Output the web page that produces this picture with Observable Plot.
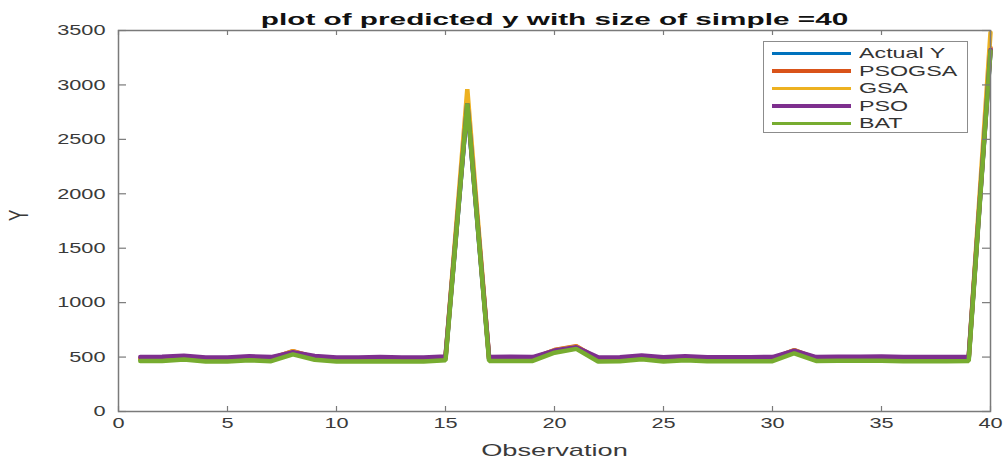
<!DOCTYPE html>
<html>
<head>
<meta charset="utf-8">
<script src="https://cdn.jsdelivr.net/npm/d3@7"></script>
<script src="https://cdn.jsdelivr.net/npm/@observablehq/plot@0.6"></script>
<style>
  html, body { margin: 0; padding: 0; background: #fff; }
  #wrap { position: relative; width: 1007px; height: 463px; overflow: hidden; }
  #legend {
    position: absolute; left: 763px; top: 41px; width: 205px; height: 92px;
    background: #fff; border: 1.5px solid #8c8c8c; box-sizing: border-box;
    font-family: "Liberation Sans", Arial, sans-serif; font-size: 15px; color: #333;
    padding-top: 2px;
  }
  .row { position: relative; height: 17.5px; }
  .sw { position: absolute; left: 8px; top: 7.5px; width: 79px; height: 3.5px; }
  .lab { position: absolute; left: 95px; top: 0px; line-height: 17.5px; transform: scaleX(1.55); transform-origin: left center; white-space: nowrap; }
</style>
</head>
<body>
<div id="wrap"><div id="chart"></div><div id="legend"></div></div>
<script>
const title = "plot of predicted y with size of simple =40";
const xLabel = "Observation";
const yLabel = "Y";
const xTicks = [0, 5, 10, 15, 20, 25, 30, 35, 40];
const yTicks = [0, 500, 1000, 1500, 2000, 2500, 3000, 3500];
const observations = [1,2,3,4,5,6,7,8,9,10,11,12,13,14,15,16,17,18,19,20,21,22,23,24,25,26,27,28,29,30,31,32,33,34,35,36,37,38,39,40];
const seriesNames = ["Actual Y", "PSOGSA", "GSA", "PSO", "BAT"];
const seriesColors = ["#0072BD", "#D95319", "#EDB120", "#7E2F8E", "#77AC30"];

const actualY = [480,482,495,476,476,488,480,540,492,476,476,480,476,476,485,2820,480,484,480,550,585,476,478,498,478,490,478,478,478,480,550,480,482,482,485,480,480,480,482,3320];
const psogsa  = [485,487,500,481,481,493,485,555,497,481,481,485,481,481,490,2860,485,489,485,565,600,481,483,503,483,495,483,483,483,485,565,485,487,487,490,485,485,485,487,3340];
const gsa     = [488,490,503,484,484,496,488,552,500,484,484,488,484,484,493,2960,488,492,488,562,595,484,486,506,486,498,486,486,486,488,562,488,490,490,493,488,488,488,490,3480];
const pso     = [500,502,512,497,497,508,500,545,510,497,497,500,497,497,505,2830,500,504,500,560,590,497,499,515,499,508,499,499,499,500,560,500,502,502,505,500,500,500,502,3320];
const bat     = [465,465,478,460,460,470,462,525,475,460,460,462,460,460,470,2830,465,465,465,540,575,460,462,480,460,470,462,462,462,462,535,465,467,467,467,462,462,462,465,3310];

const seriesValues = [actualY, psogsa, gsa, pso, bat];
const data = [];
seriesNames.forEach((name, s) => {
  observations.forEach((o, i) => data.push({series: name, obs: o, value: seriesValues[s][i]}));
});

const xMin = xTicks[0], xMax = xTicks[xTicks.length - 1];
const yMin = yTicks[0], yMax = yTicks[yTicks.length - 1];
const axisColor = "#7a7a7a";
const chart = Plot.plot({
  width: 1007,
  height: 463,
  marginLeft: 118,
  marginRight: 17,
  marginTop: 30,
  marginBottom: 52,
  style: {fontFamily: "'Liberation Sans', Arial, sans-serif", fontSize: "15px", color: "#3a3a3a", background: "#fff"},
  x: {domain: [xMin, xMax], axis: null},
  y: {domain: [yMin, yMax], axis: null},
  color: {domain: seriesNames, range: seriesColors},
  marks: [
    Plot.line(data, {x: "obs", y: "value", z: "series", stroke: "series", strokeWidth: 4.5, strokeLinejoin: "miter"}),
    Plot.frame({stroke: axisColor, strokeWidth: 1.5}),
    // inward tick marks on all four sides
    Plot.ruleX(xTicks, {x: d => d, y1: yMin, y2: yMin, insetTop: 0, insetBottom: 5, stroke: axisColor, strokeWidth: 1.2}),
    Plot.ruleX(xTicks, {x: d => d, y1: yMax, y2: yMax, insetTop: 0, insetBottom: -5, stroke: axisColor, strokeWidth: 1.2}),
    Plot.ruleY(yTicks, {y: d => d, x1: xMin, x2: xMin, insetLeft: 0, insetRight: -8, stroke: axisColor, strokeWidth: 1.2}),
    Plot.ruleY(yTicks, {y: d => d, x1: xMax, x2: xMax, insetLeft: -8, insetRight: 0, stroke: axisColor, strokeWidth: 1.2}),
    Plot.axisX(xTicks, {anchor: "bottom", tickSize: 0, tickPadding: 6, tickFormat: d => String(d), label: null, fontSize: 15}),
    Plot.axisY(yTicks, {anchor: "left", tickSize: 0, tickPadding: 13, tickFormat: d => String(d), label: null, fontSize: 15}),
    Plot.text([xLabel], {frameAnchor: "bottom", dy: 44, fontSize: 17}),
    Plot.text([yLabel], {frameAnchor: "left", dx: -99, rotate: -90, fontSize: 17}),
    Plot.text([title], {frameAnchor: "top", dy: -18, fontWeight: "bold", fontSize: 17, fill: "#111"})
  ]
});
document.getElementById("chart").appendChild(chart);

// The reference figure is horizontally stretched: widen the glyphs around their anchor point.
chart.querySelectorAll("text").forEach(t => {
  const txt = t.textContent;
  let s = 1.45;
  if (txt === title) s = 1.75;
  else if (txt === xLabel || txt === yLabel) s = 1.6;
  let tr = t.getAttribute("transform") || "";
  if (!/translate/.test(tr)) {
    const x = +(t.getAttribute("x") || 0), y = +(t.getAttribute("y") || 0);
    t.removeAttribute("x"); t.removeAttribute("y");
    tr = `translate(${x},${y}) ` + tr;
  }
  tr += /rotate/.test(tr) ? ` scale(1,${s})` : ` scale(${s},1)`;
  t.setAttribute("transform", tr);
});

const legend = document.getElementById("legend");
seriesNames.forEach((name, i) => {
  const row = document.createElement("div");
  row.className = "row";
  row.innerHTML = `<div class="sw" style="background:${seriesColors[i]}"></div><span class="lab">${name}</span>`;
  legend.appendChild(row);
});
</script>
</body>
</html>
